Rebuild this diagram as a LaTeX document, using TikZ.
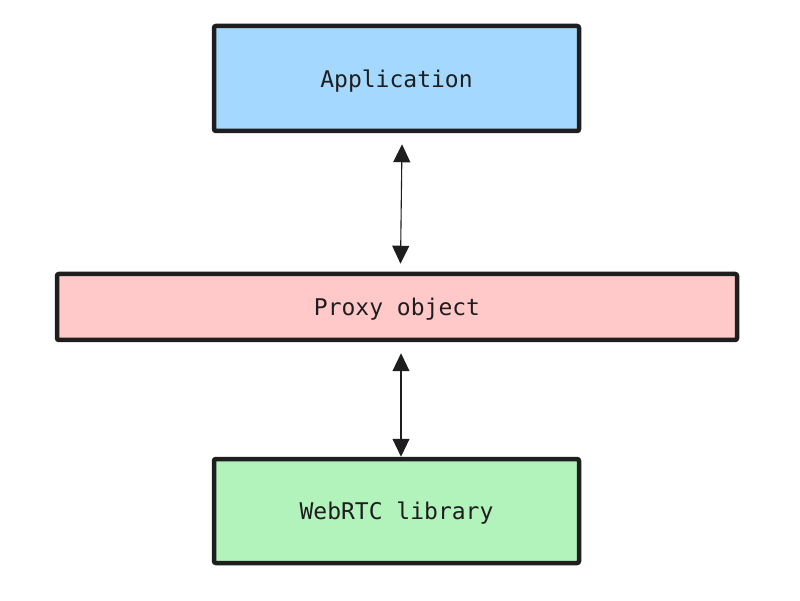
\documentclass[tikz,border=0pt]{standalone}
\usepackage{fontspec}
\setmonofont{DejaVu Sans Mono}
\usetikzlibrary{arrows.meta}
\definecolor{strokec}{HTML}{1E1E1E}
\definecolor{bluef}{HTML}{A5D8FF}
\definecolor{pinkf}{HTML}{FFC9C9}
\definecolor{greenf}{HTML}{B2F2BB}
\tikzset{
  box/.style={draw=strokec, line width=4.5pt, rounded corners=2pt, text=strokec,
    font=\ttfamily\fontsize{23}{26}\selectfont, inner sep=0pt, text depth=-3pt},
  arr/.style={draw=strokec, line width=1.1pt, {Triangle[length=18pt,width=17pt]}-{Triangle[length=18pt,width=17pt]}}
}
\begin{document}
\begin{tikzpicture}[x=1pt,y=1pt]
\useasboundingbox[fill=white] (0,0) rectangle (800,600);
\node[box, fill=bluef, minimum width=365pt, minimum height=105pt] (app) at (396.5,521.5) {Application};
\node[box, fill=pinkf, minimum width=680pt, minimum height=66pt] (proxy) at (397,293) {Proxy object};
\node[box, fill=greenf, minimum width=365pt, minimum height=104pt] (lib) at (396.5,89) {WebRTC library};
\draw[arr] ([xshift=5.5pt,yshift=-11pt]app.south) -- ([xshift=3.5pt,yshift=8pt]proxy.north);
\draw[arr] ([xshift=4pt,yshift=-11pt]proxy.south) -- ([xshift=4.5pt,yshift=0pt]lib.north);
\end{tikzpicture}
\end{document}
